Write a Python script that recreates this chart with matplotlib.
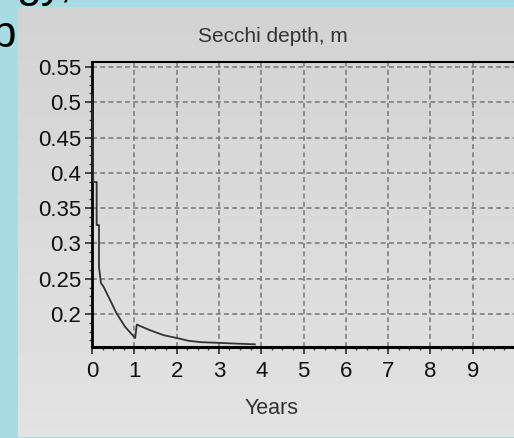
import numpy as np
import matplotlib
matplotlib.use("Agg")
import matplotlib.pyplot as plt
from matplotlib.ticker import AutoMinorLocator, FuncFormatter
from matplotlib.colors import LinearSegmentedColormap

# Secchi depth model output (years, metres)
years = [0.0, 0.03, 0.11, 0.11, 0.165, 0.165, 0.21, 0.27, 0.385, 0.58, 0.78, 1.02,
         1.06, 1.37, 1.69, 2.0, 2.28, 2.59, 3.03, 3.4, 3.85]
secchi = [0.51, 0.387, 0.387, 0.326, 0.326, 0.267, 0.244, 0.239, 0.225, 0.201, 0.182, 0.166,
          0.185, 0.177, 0.170, 0.166, 0.162, 0.160, 0.159, 0.158, 0.157]

x_ticks = [0, 1, 2, 3, 4, 5, 6, 7, 8, 9]
y_ticks = [0.2, 0.25, 0.3, 0.35, 0.4, 0.45, 0.5, 0.55]

W, H = 514, 438
fig = plt.figure(figsize=(W / 100, H / 100), dpi=100)
fig.patch.set_facecolor("#a8dce5")

# slide layer: clipped slide text and the grey chart panel
bg = fig.add_axes([0, 0, 1, 1])
bg.axis("off")
bg.text(17, 47, "ab", ha="right", va="baseline", fontsize=32,
        family="Liberation Sans", color="black", zorder=1)
bg.text(16, -3, "gy,", ha="left", va="baseline", fontsize=32,
        family="Liberation Sans", color="black", zorder=1)
panel_cmap = LinearSegmentedColormap.from_list("panel", ["#d3d3d3", "#e3e3e3"])
bg.imshow(np.linspace(0, 1, 64).reshape(-1, 1), cmap=panel_cmap, aspect="auto",
          extent=(18, W, 437, 7), zorder=2)
bg.set_xlim(0, W)
bg.set_ylim(H, 0)

# plot area
px_per_year = 42.3
left, right = 92, 92 + 10 * px_per_year
top, bottom = 62, 347
ax = fig.add_axes([left / W, 1 - bottom / H, (right - left) / W, (bottom - top) / H])
ax.set_facecolor("none")

ax.plot(years, secchi, color="#333333", lw=1.3, zorder=3)

ax.set_xlim(0, 10)
ax.set_ylim(0.1532, 0.557)
ax.set_xticks(x_ticks)
ax.set_yticks(y_ticks)
ax.xaxis.set_minor_locator(AutoMinorLocator(4))
ax.yaxis.set_minor_locator(AutoMinorLocator(4))
ax.yaxis.set_major_formatter(FuncFormatter(lambda v, p: f"{v:g}"))

ax.grid(True, which="major", color="#767676", lw=1.1, linestyle=(0, (3.2, 2.2)))
ax.set_axisbelow(True)

ax.spines["right"].set_visible(False)
ax.spines["left"].set_linewidth(2.0)
ax.spines["bottom"].set_linewidth(2.2)
ax.spines["top"].set_linewidth(1.5)
for s in ax.spines.values():
    s.set_color("black")

ax.tick_params(which="major", direction="out", length=5, width=1.1, color="#202020",
               pad=3, labelcolor="#111111")
ax.tick_params(axis="x", which="major", pad=5)
ax.tick_params(which="minor", direction="out", length=2.5, width=1.0, color="#404040")
for lab in ax.get_xticklabels() + ax.get_yticklabels():
    lab.set_fontfamily("Liberation Sans")
    lab.set_fontsize(16)

fig.text(273 / W, 1 - 37 / H, "Secchi depth, m", ha="center", va="center",
         fontsize=15, family="Liberation Sans", color="#333333")
fig.text(272 / W, 1 - 409 / H, "Years", ha="center", va="center",
         fontsize=15.5, family="Liberation Sans", color="#333333")

fig.savefig("out.png", dpi=100)
